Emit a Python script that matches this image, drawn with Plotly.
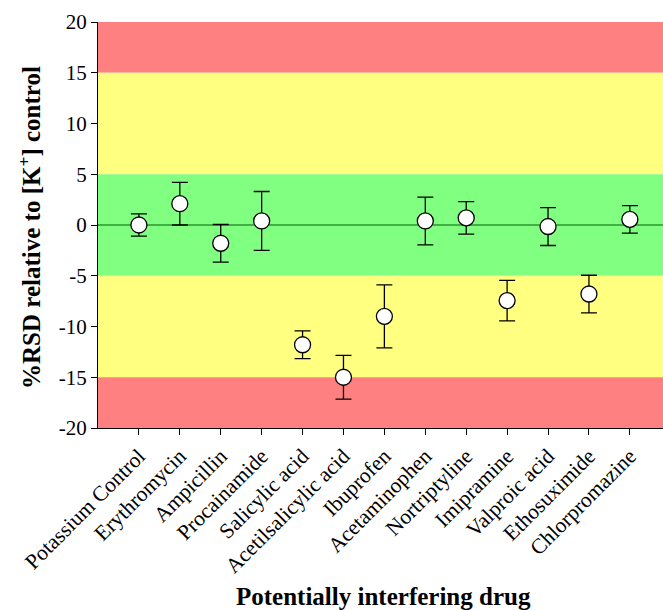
import plotly.graph_objects as go

drugs = ["Potassium Control", "Erythromycin", "Ampicillin", "Procainamide",
         "Salicylic acid", "Acetilsalicylic acid", "Ibuprofen", "Acetaminophen",
         "Nortriptyline", "Imipramine", "Valproic acid", "Ethosuximide", "Chlorpromazine"]
rsd = [0.0, 2.1, -1.8, 0.4, -11.8, -15.0, -9.0, 0.4, 0.7, -7.45, -0.15, -6.8, 0.55]
err = [1.1, 2.1, 1.85, 2.9, 1.37, 2.15, 3.1, 2.35, 1.6, 2.0, 1.87, 1.85, 1.35]
yticks = [-20, -15, -10, -5, 0, 5, 10, 15, 20]
ytick_text = ["-20", "-15", "-10", "-5", "0", "5", "10", "15", "20"]

bands = [(15, 20, "#FF8080"), (5, 15, "#FFFF80"), (-5, 5, "#80FF80"),
         (-15, -5, "#FFFF80"), (-20, -15, "#FF8080")]

fig = go.Figure()
fig.add_trace(go.Scatter(
    x=drugs, y=rsd, mode="markers",
    marker=dict(size=16, color="white", line=dict(color="black", width=1.3)),
    error_y=dict(type="data", array=err, symmetric=True, color="black",
                 thickness=1.3, width=8),
    showlegend=False,
))

shapes = []
for y0, y1, c in bands:
    shapes.append(dict(type="rect", xref="paper", yref="y", x0=0, x1=1, y0=y0, y1=y1,
                       fillcolor=c, line=dict(width=0), layer="below"))
shapes.append(dict(type="line", xref="paper", yref="y", x0=0, x1=1, y0=0, y1=0,
                   line=dict(color="#006000", width=1), layer="below"))

font = "Liberation Serif, Times New Roman, serif"
fig.update_layout(
    width=663, height=610,
    margin=dict(l=98, r=0, t=22, b=182),
    paper_bgcolor="white", plot_bgcolor="white",
    shapes=shapes,
    font=dict(family=font, size=21, color="black"),
    xaxis=dict(
        type="category", range=[-1, 12.81], tickangle=-45,
        showgrid=False, zeroline=False,
        showline=True, linecolor="black", linewidth=1,
        ticks="outside", ticklen=6, tickcolor="black",
        tickfont=dict(family=font, size=21.5),
    ),
    yaxis=dict(
        range=[-20, 20], tickvals=yticks, ticktext=ytick_text,
        showgrid=False, zeroline=False,
        showline=True, linecolor="black", linewidth=1,
        ticks="outside", ticklen=6, tickcolor="black",
        tickfont=dict(family=font, size=21),
    ),
    annotations=[
        dict(text="<b>Potentially interfering drug</b>", xref="paper", yref="paper",
             x=0.506, y=-0.416, xanchor="center", yanchor="middle", showarrow=False,
             font=dict(family=font, size=25)),
        dict(text="<b>%RSD relative to [K<sup>+</sup>] control</b>", xref="paper", yref="paper",
             x=-0.1204, y=0.495, xanchor="center", yanchor="middle", showarrow=False,
             textangle=-90, font=dict(family=font, size=25)),
    ],
)

fig.write_html("out.html", config={"displayModeBar": False},
               post_script="document.body.style.margin='0px';")
